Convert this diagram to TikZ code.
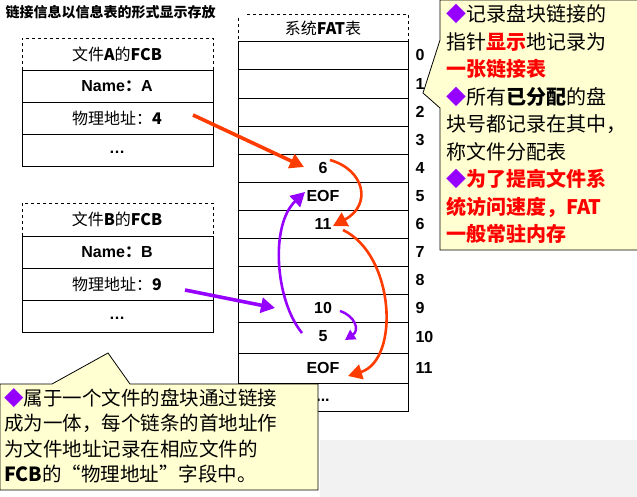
\documentclass[tikz,border=0pt]{standalone}
\usepackage{fontspec}
\setmainfont{Liberation Sans}
\newfontfamily\cjk{Noto Sans CJK SC}
\usetikzlibrary{arrows.meta}
\definecolor{redA}{RGB}{255,60,0}
\definecolor{purp}{RGB}{150,0,255}
\definecolor{callY}{RGB}{255,255,210}
\begin{document}
\begin{tikzpicture}[x=1pt,y=-1pt,
  cell/.style={draw,line width=0.8pt},
  lbl/.style={font=\fontsize{16}{18}\selectfont\bfseries},
  ctext/.style={font=\cjk\fontsize{16}{18}\selectfont},
  ra/.style={draw=redA,line width=3.6pt,-{Triangle[length=14pt,width=15pt]}},
  pa/.style={draw=purp,line width=3.6pt,-{Triangle[length=14pt,width=15pt]}}]
\useasboundingbox (0,0) rectangle (637,497);
\fill[white] (0,0) rectangle (637,497);
\fill[black!5] (320,440) rectangle (637,497);
% title
\node[anchor=west,font=\cjk\fontsize{14}{16}\selectfont\bfseries] (title) at (2,12) {链接信息以信息表的形式显示存放};
% FAT
\draw[dashed] (247,14) -- (408,14) -- (408,41);
\draw[dashed] (238,18) -- (238,41);
\node[ctext] (fathead) at (323,28) {系统\textbf{FAT}表};
\foreach \a/\b in {41/69,69/98,98/126,126/154,154/182,182/210,210/238,238/266,266/294,294/322,322/353,353/383,383/411}{
  \draw[cell] (238,\a) rectangle (408,\b);
}
\foreach \i/\y in {0/55,1/84,2/112,3/140,4/168,5/196,6/224,7/252,8/280,9/308,10/337,11/368}{
  \node[lbl,anchor=west] (idx\i) at (412,\y) {\i};
}
\node[lbl] (c4) at (323,168) {6};
\node[lbl] (c5) at (323,196) {EOF};
\node[lbl] (c6) at (323,224) {11};
\node[lbl] (c9) at (323,308) {10};
\node[lbl] (c10) at (323,336) {5};
\node[lbl] (c11) at (323,368) {EOF};
\node[lbl] (c12) at (323,400) {...};
% FCB A
\draw[dashed] (22,70) -- (22,38) -- (213,38) -- (213,70);
\draw[cell] (22,70) -- (213,70) (22,70) rectangle (213,166) (22,102) -- (213,102) (22,134) -- (213,134);
\node[ctext] (a1) at (117,54) {文件\textbf{A}的\textbf{FCB}};
\node[lbl] (a2) at (117,86) {Name{\cjk ：}A};
\node[ctext] (a3) at (117,118) {物理地址：\textbf{4}};
\node[lbl] (a4) at (117,152) {…};
% FCB B
\draw[dashed] (22,236) -- (22,203) -- (213,203) -- (213,236);
\draw[cell] (22,236) rectangle (213,332) (22,268) -- (213,268) (22,300) -- (213,300);
\node[ctext] (b1) at (117,219) {文件\textbf{B}的\textbf{FCB}};
\node[lbl] (b2) at (117,252) {Name{\cjk ：}B};
\node[ctext] (b3) at (117,284) {物理地址：\textbf{9}};
\node[lbl] (b4) at (117,318) {…};
% arrows
\coordinate (s1) at (193,115);
\coordinate (e1) at (304,167);
\draw[ra] (s1) -- (e1);
\coordinate (s2) at (330,160);
\coordinate (e2) at (333,226);
\draw[ra,line width=2.6pt] (s2) .. controls (365,170) and (372,205) .. (e2);
\coordinate (s3) at (343,230);
\coordinate (e3) at (348,376);
\draw[ra,line width=2.6pt] (s3) .. controls (395,255) and (400,360) .. (e3);
\coordinate (s4) at (185,290);
\coordinate (e4) at (275,308);
\draw[pa] (s4) -- (e4);
\coordinate (s5) at (302,333);
\coordinate (e5) at (305,192);
\draw[pa,line width=2.6pt] (s5) .. controls (275,300) and (270,225) .. (e5);
\coordinate (s6) at (340,311);
\coordinate (e6) at (345,340);
\draw[pa,line width=2.4pt,-{Triangle[length=10pt,width=11pt]}] (s6) .. controls (355,316) and (360,330) .. (e6);
% top callout
\draw[fill=callY,line width=0.8pt] (645,0) -- (440,0) -- (440,40) -- (423,93) -- (440,108) -- (440,250) -- (645,250);
\node[anchor=north west,align=left,inner sep=0pt,font=\cjk\fontsize{20}{27.5}\selectfont] (tc) at (446,4)
{\textcolor{purp}{◆}记录盘块链接的\\指针\textcolor{red}{\textbf{显示}}地记录为\\\textcolor{red}{\textbf{一张链接表}}\\\textcolor{purp}{◆}所有\textbf{已分配}的盘\\块号都记录在其中，\\称文件分配表\\\textcolor{purp}{◆}\textcolor{red}{\textbf{为了提高文件系}}\\\textcolor{red}{\textbf{统访问速度，FAT}}\\\textcolor{red}{\textbf{一般常驻内存}}};
% bottom callout
\draw[fill=callY,line width=0.8pt] (0,384) -- (52,384) -- (108,353) -- (130,384) -- (318,384) -- (318,490) -- (0,490) -- cycle;
\node[anchor=north west,align=left,inner sep=0pt,font=\cjk\fontsize{19.5}{25.5}\selectfont] (bc) at (4,388)
{\textcolor{purp}{◆}属于一个文件的盘块通过链接\\成为一体，每个链条的首地址作\\为文件地址记录在相应文件的\\\textbf{FCB}的“物理地址”字段中。};
\end{tikzpicture}
\end{document}
